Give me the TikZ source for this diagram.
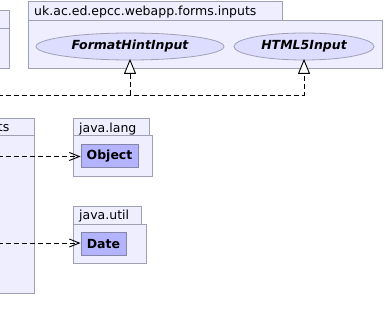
\documentclass[tikz,border=0pt]{standalone}
\usepackage{fontspec}
\setmainfont{DejaVu Sans}
\usetikzlibrary{arrows.meta,shapes.geometric}
\definecolor{pkgfill}{HTML}{EEEEFF}
\definecolor{pkgdraw}{HTML}{A0A0B4}
\definecolor{ifcfill}{HTML}{DDDDFF}
\definecolor{clsfill}{HTML}{B3B3FF}
\definecolor{clsdraw}{HTML}{8585A8}
\tikzset{
  pkgbox/.style={draw=pkgdraw, fill=pkgfill, line width=1pt},
  pkglabel/.style={anchor=base west, inner sep=0pt, font=\fontsize{12.5}{15}\selectfont},
  ifcnode/.style={ellipse, draw=pkgdraw, fill=ifcfill, line width=0.8pt,
    minimum height=27pt, inner sep=0pt, font=\fontsize{12.5}{15}\selectfont\bfseries\itshape},
  clsnode/.style={rectangle, draw=clsdraw, fill=clsfill, line width=1pt,
    inner sep=0pt, minimum height=23pt, font=\fontsize{12.5}{15}\selectfont\bfseries},
  realizes/.style={dashed, dash pattern=on 5pt off 3pt, line width=0.9pt,
    -{Triangle[length=15pt,width=12pt,fill=white,line width=0.9pt]}},
  depends/.style={dashed, dash pattern=on 5pt off 3pt, line width=0.9pt,
    -{Straight Barb[length=10pt,width=8pt,line width=0.9pt]}},
}
\begin{document}
\begin{tikzpicture}[x=1pt,y=-1pt]
\useasboundingbox (0,0) rectangle (385,331);
\clip (0,0) rectangle (385,331);

% package at the top left, cut by the edge
\draw[pkgbox] (-5,11) rectangle (9,69);
\draw[draw=pkgdraw, line width=1pt] (-5,29) -- (9,29);

% package on the left, cut by the edge
\draw[pkgbox] (-5,136) rectangle (34,293);
\draw[pkgbox] (-5,119) rectangle (34,136);
\node[pkglabel, anchor=base east] (leftlbl) at (9.5,132) {ts};

% uk.ac.ed.epcc.webapp.forms.inputs
\draw[pkgbox] (28,21) rectangle (382,69);
\draw[pkgbox] (28,2) rectangle (282,21);
\node[pkglabel] (inputslbl) at (34,15.5) {uk.ac.ed.epcc.webapp.forms.inputs};
\node[ifcnode, minimum width=188pt] (fhi) at (130,46.5) {FormatHintInput};
\node[ifcnode, minimum width=140pt] (html5) at (304,46.5) {HTML5Input};

% java.lang
\draw[pkgbox] (73,136) rectangle (152,176);
\draw[pkgbox] (73,119) rectangle (149,136);
\node[pkglabel] (langlbl) at (79,132.5) {java.lang};
\node[clsnode, minimum width=57pt] (object) at (109.5,156.5) {Object};

% java.util
\draw[pkgbox] (73,224) rectangle (146,263);
\draw[pkgbox] (73,206) rectangle (141,224);
\node[pkglabel] (utillbl) at (79,219.5) {java.util};
\node[clsnode, minimum width=45pt] (date) at (103.5,244) {Date};

% connectors coming in from the left
\coordinate (src1) at (-2,95);
\coordinate (src2) at (-2,156.5);
\coordinate (src3) at (-2,243);
\coordinate (split) at (130,95);

\draw[realizes] (src1) -| ([yshift=1.5pt]html5.south);
\draw[realizes] (split) -- ([yshift=1.5pt]fhi.south);
\draw[depends] (src2) -- (object.west);
\draw[depends] (src3) -- (src3 -| date.west);
\end{tikzpicture}
\end{document}
